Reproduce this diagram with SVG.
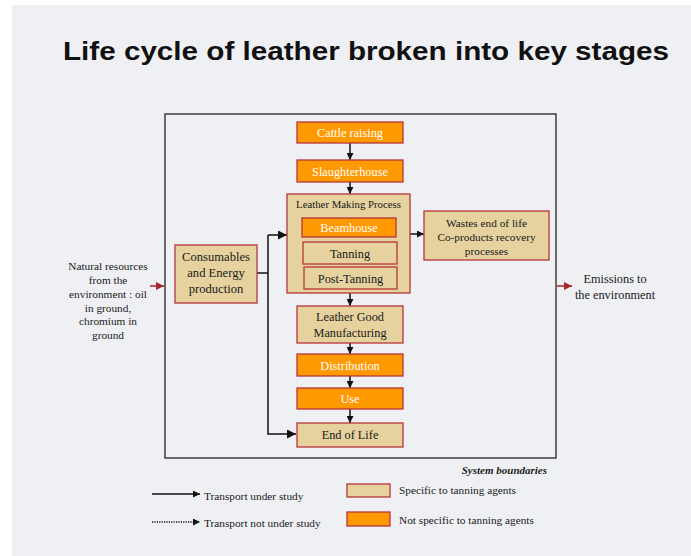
<svg xmlns="http://www.w3.org/2000/svg" width="691" height="556" viewBox="0 0 691 556">
<defs>
<style>
.bg{fill:#eff0f4}
.tan{fill:#e6d29e;stroke:#b8343a;stroke-width:1.3}
.org{fill:#ff9900;stroke:#b8343a;stroke-width:1.3}
.t{font-family:"Liberation Serif","Times New Roman",serif;font-size:12.3px;fill:#1a1a1a;text-anchor:middle}
.w{fill:#ffffff}
.s{font-size:11.3px}
.ln{stroke:#111;stroke-width:1.5;fill:none}
.red{stroke:#a8262e;stroke-width:1.5;fill:none}
.lg{font-family:"Liberation Serif","Times New Roman",serif;font-size:11.3px;fill:#1a1a1a}
</style>
<marker id="ah" viewBox="0 0 10 10" refX="10" refY="5" markerWidth="7" markerHeight="7" markerUnits="userSpaceOnUse" orient="auto"><path d="M0,0 L10,5 L0,10 z" fill="#111"/></marker>
<marker id="ahb" viewBox="0 0 10 10" refX="10" refY="5" markerWidth="9" markerHeight="9" markerUnits="userSpaceOnUse" orient="auto"><path d="M0,0 L10,5 L0,10 z" fill="#111"/></marker>
<marker id="ahr" viewBox="0 0 10 10" refX="10" refY="5" markerWidth="9" markerHeight="8" markerUnits="userSpaceOnUse" orient="auto"><path d="M0,0 L10,5 L0,10 z" fill="#a8262e"/></marker>
</defs>
<rect x="0" y="0" width="691" height="556" fill="#ffffff"/>
<rect class="bg" x="12" y="5" width="679" height="551"/>
<text x="366" y="60" font-family="'Liberation Sans',Arial,sans-serif" font-size="25" font-weight="bold" text-anchor="middle" fill="#111" textLength="606" lengthAdjust="spacingAndGlyphs">Life cycle of leather broken into key stages</text>
<rect id="boundary" x="165" y="114" width="391" height="344" fill="none" stroke="#222" stroke-width="1.3"/>
<g id="connectors">
<line class="ln" x1="350" y1="143" x2="350" y2="160" marker-end="url(#ah)"/>
<line class="ln" x1="350" y1="182" x2="350" y2="194" marker-end="url(#ah)"/>
<line class="ln" x1="350" y1="293" x2="350" y2="306" marker-end="url(#ah)"/>
<line class="ln" x1="350" y1="343" x2="350" y2="354" marker-end="url(#ah)"/>
<line class="ln" x1="350" y1="376" x2="350" y2="388" marker-end="url(#ah)"/>
<line class="ln" x1="350" y1="409" x2="350" y2="423" marker-end="url(#ah)"/>
<line class="ln" x1="410" y1="234" x2="424" y2="234" marker-end="url(#ah)"/>
<line class="ln" x1="257" y1="273" x2="268" y2="273"/>
<polyline class="ln" points="268,235 268,434 296,434" marker-end="url(#ahb)"/>
<line class="ln" x1="268" y1="235" x2="287" y2="235" marker-end="url(#ahb)"/>
<line class="red" x1="150" y1="286" x2="164" y2="286" marker-end="url(#ahr)"/>
<line class="red" x1="557" y1="286" x2="572" y2="286" marker-end="url(#ahr)"/>
</g>
<g id="cattle"><rect class="org" x="297" y="122" width="106" height="21"/><text class="t w" x="350" y="137">Cattle raising</text></g>
<g id="slaughterhouse"><rect class="org" x="297" y="160" width="106" height="22"/><text class="t w" x="350" y="175.5">Slaughterhouse</text></g>
<g id="leather-making"><rect class="tan" x="287" y="194" width="123" height="99"/><text class="t" style="font-size:10.8px" x="348.5" y="208">Leather Making Process</text></g>
<g id="beamhouse"><rect class="org" x="302" y="218" width="94" height="19"/><text class="t w" x="349" y="232">Beamhouse</text></g>
<g id="tanning"><rect class="tan" x="303" y="242" width="94" height="22"/><text class="t" x="350" y="258">Tanning</text></g>
<g id="post-tanning"><rect class="tan" x="304" y="267" width="93" height="22"/><text class="t" x="350.5" y="283">Post-Tanning</text></g>
<g id="consumables"><rect class="tan" x="175" y="245" width="82" height="58"/><text class="t" style="font-size:12.6px" x="216" y="261">Consumables</text><text class="t" style="font-size:12.6px" x="216" y="277">and Energy</text><text class="t" style="font-size:12.6px" x="216" y="293">production</text></g>
<g id="wastes"><rect class="tan" x="424" y="211" width="125" height="49"/><text class="t s" x="486.5" y="227">Wastes end of life</text><text class="t s" x="486.5" y="241">Co-products recovery</text><text class="t s" x="486.5" y="255">processes</text></g>
<g id="leather-good"><rect class="tan" x="297" y="306" width="106" height="37"/><text class="t" x="350" y="321">Leather Good</text><text class="t" x="350" y="337">Manufacturing</text></g>
<g id="distribution"><rect class="org" x="297" y="354" width="106" height="22"/><text class="t w" x="350" y="369.5">Distribution</text></g>
<g id="use"><rect class="org" x="297" y="388" width="106" height="21"/><text class="t w" x="350" y="403">Use</text></g>
<g id="end-of-life"><rect class="tan" x="297" y="423" width="106" height="24"/><text class="t" x="350" y="439">End of Life</text></g>
<g id="natural-resources">
<text class="t s" x="108" y="270">Natural resources</text>
<text class="t s" x="108" y="284">from the</text>
<text class="t s" x="108" y="298">environment : oil</text>
<text class="t s" x="108" y="312">in ground,</text>
<text class="t s" x="108" y="325">chromium in</text>
<text class="t s" x="108" y="339">ground</text>
</g>
<g id="emissions">
<text class="t" x="615" y="283">Emissions to</text>
<text class="t" x="615" y="299">the environment</text>
</g>
<text x="547" y="474" text-anchor="end" font-family="'Liberation Serif','Times New Roman',serif" font-size="11" font-style="italic" font-weight="bold" fill="#222">System boundaries</text>
<g id="legend">
<line class="ln" x1="152" y1="494" x2="200" y2="494" marker-end="url(#ah)"/>
<text class="lg" x="204" y="500">Transport under study</text>
<line x1="152" y1="522" x2="200" y2="522" stroke="#111" stroke-width="1.5" stroke-dasharray="1.2,1.2" marker-end="url(#ah)"/>
<text class="lg" x="204" y="527">Transport not under study</text>
<rect class="tan" x="347" y="484" width="43" height="13"/>
<text class="lg" x="399" y="494">Specific to tanning agents</text>
<rect class="org" x="347" y="512" width="43" height="14"/>
<text class="lg" x="399" y="524">Not specific to tanning agents</text>
</g>
</svg>
